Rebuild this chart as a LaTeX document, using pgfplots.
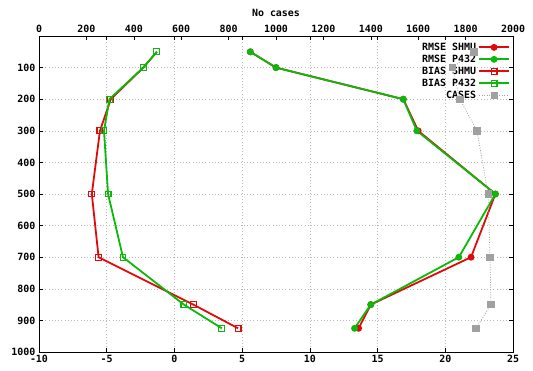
\documentclass[border=0pt]{standalone}
\usepackage{pgfplots}
\pgfplotsset{compat=1.18}
\usepackage{fontspec}
\setmainfont{DejaVu Sans Mono}

\definecolor{shmured}{RGB}{225,10,10}
\definecolor{pgreen}{RGB}{10,185,10}
\definecolor{casegray}{RGB}{160,160,160}

\begin{document}
\begin{tikzpicture}
\pgfplotsset{
  every axis/.append style={
    scale only axis, width=474bp, height=316bp,
    ymin=0, ymax=1000, y dir=reverse,
    font=\bfseries\fontsize{10}{11}\selectfont,
    /pgf/number format/assume math mode=true,
    /pgf/number format/1000 sep={},
    tick align=inside, major tick length=4bp,
    tick style={black, line width=0.5bp},
    axis line style={black, line width=0.7bp},
  },
  rmse/.style={line width=1.8bp, mark=*, mark size=2.5bp, mark options={solid}},
  bias/.style={line width=1.8bp, mark=square, mark size=2.9bp, mark options={solid, line width=1.1bp}},
  cases/.style={casegray, dash pattern=on 1bp off 1.5bp, line width=0.7bp, mark=square*, mark size=3.2bp, mark options={solid, fill=casegray, draw=casegray}},
}
% lower axis: RMSE and BIAS against pressure level
\begin{axis}[
  name=main,
  xmin=-10, xmax=25, xtick={-10,-5,...,25},
  ytick={100,200,...,1000},
  grid=major, grid style={gray!55, dash pattern=on 1bp off 2.2bp, line width=0.5bp},
  legend cell align=right, legend plot pos=right,
  legend style={draw=none, fill=none, at={(axis description cs:0.994,0.985)}, anchor=north east,
    inner sep=0pt, row sep=-0.9bp, font=\bfseries\fontsize{10}{11}\selectfont},
  legend image code/.code={\draw[mark repeat=2, mark phase=2] plot coordinates {(0bp,0bp) (15bp,0bp) (30bp,0bp)};},
]
\addplot[rmse, shmured] coordinates {(5.6,50) (7.5,100) (16.9,200) (18.0,300) (23.7,500) (21.9,700) (14.5,850) (13.6,925)};
\addlegendentry{RMSE SHMU}
\addplot[rmse, pgreen] coordinates {(5.6,50) (7.5,100) (16.9,200) (17.9,300) (23.7,500) (21.0,700) (14.5,850) (13.3,925)};
\addlegendentry{RMSE P432}
\addplot[bias, shmured] coordinates {(-1.3,50) (-2.3,100) (-4.7,200) (-5.5,300) (-6.1,500) (-5.6,700) (1.4,850) (4.7,925)};
\addlegendentry{BIAS SHMU}
\addplot[bias, pgreen] coordinates {(-1.3,50) (-2.3,100) (-4.8,200) (-5.2,300) (-4.9,500) (-3.8,700) (0.7,850) (3.5,925)};
\addlegendentry{BIAS P432}
\addlegendimage{cases}
\addlegendentry{CASES}
\end{axis}
% upper axis: number of cases
\begin{axis}[
  xmin=0, xmax=2000, xtick={0,200,...,2000},
  axis x line*=top, axis y line=none,
  xlabel={No cases}, xlabel style={yshift=1bp},
]
\addplot[cases] coordinates {(1835,50) (1743,100) (1776,200) (1848,300) (1895,500) (1903,700) (1907,850) (1844,925)};
\end{axis}
\pgfresetboundingbox
\path[use as bounding box] ([xshift=-39bp,yshift=-19bp]main.south west) rectangle ([xshift=20bp,yshift=36bp]main.north east);
\end{tikzpicture}
\end{document}
